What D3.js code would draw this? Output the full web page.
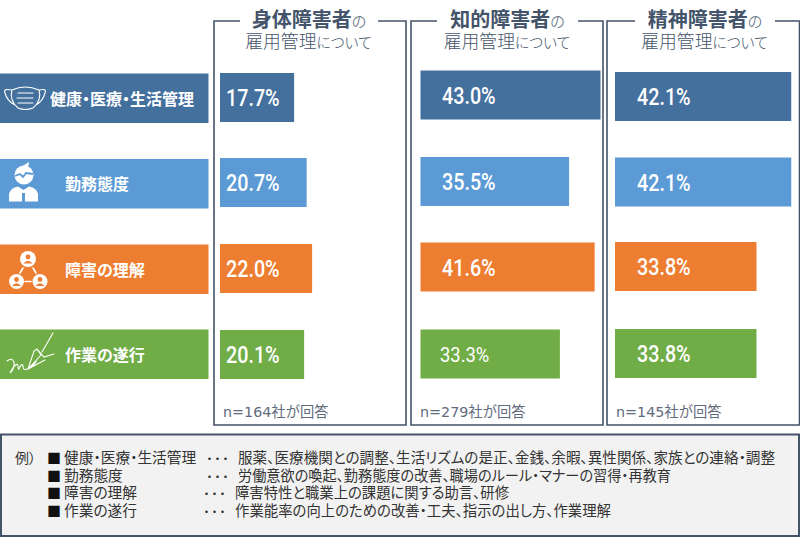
<!DOCTYPE html>
<html lang="ja"><head><meta charset="utf-8">
<script src="https://cdn.jsdelivr.net/npm/d3@7"></script>
<style>
html,body{margin:0;padding:0;background:#fff;overflow:hidden}
svg{display:block}
text{font-feature-settings:"palt"}
text.plain{font-feature-settings:normal}
</style></head><body>
<svg id="c" width="800" height="537" font-family="'Noto Sans CJK JP','Noto Sans',sans-serif"></svg>
<script>
// ---- data ----
const categories = ["健康・医療・生活管理", "勤務態度", "障害の理解", "作業の遂行"];
const panelNames = ["身体障害者", "知的障害者", "精神障害者"];
const panelSubtitle = ["雇用管理", "について"];
const respondents = ["n=164社が回答", "n=279社が回答", "n=145社が回答"];
const valuesBody = [17.7, 20.7, 22.0, 20.1];
const valuesIntellectual = [43.0, 35.5, 41.6, 33.3];
const valuesMental = [42.1, 42.1, 33.8, 33.8];
const series = [valuesBody, valuesIntellectual, valuesMental];
const noteLabel = "例）";
const noteDots = "・・・";
const noteTexts = [
 "服薬、医療機関との調整、生活リズムの是正、金銭、余暇、異性関係、家族との連絡・調整",
 "労働意欲の喚起、勤務態度の改善、職場のルール・マナーの習得・再教育",
 "障害特性と職業上の課題に関する助言、研修",
 "作業能率の向上のための改善・工夫、指示の出し方、作業理解"];
// ---- layout / style ----
const colors = ["#44709e", "#5b9ad5", "#ed7d31", "#70ad47"];
const ink = "#44546a";
const frames = [
 {l:214,r:406,g0:240,g1:378,bar:220,lab:226,tx:309},
 {l:411,r:603,g0:437,g1:578,bar:420.5,lab:442,tx:507.5},
 {l:607,r:799.5,g0:635,g1:775,bar:615,lab:637,tx:705}];
const rowTops = [[73,158,244,330],[70.5,157,242.5,329.5],[72,157.5,242,329]];
const labelTops = [73.5,159,244.5,329.5];
const noteY = [458,475.5,493,511];
const noteDotX = [207,207,204,204];
const noteTextX = [238,238,235,235];
const noteTextW = [537,433,274,376];

const svg = d3.select("#c");
const x = d3.scaleLinear().domain([0,43]).range([0,180]);
const barH = 49;

// left category labels
const labelTextX = [50,65,65,65];
const labs = svg.append("g").selectAll("g").data(categories).join("g");
labs.append("rect").attr("x",0).attr("width",208.5).attr("y",(d,i)=>labelTops[i]).attr("height",49.5).attr("fill",(d,i)=>colors[i]);
labs.append("text").attr("x",(d,i)=>labelTextX[i]).attr("y",(d,i)=>labelTops[i]+31)
  .attr("fill","#fff").attr("font-size",16).attr("font-weight",700).text(d=>d);

// panels
frames.forEach((f,p)=>{
  const g = svg.append("g");
  g.append("path").attr("fill","none").attr("stroke",ink).attr("stroke-width",1.6)
   .attr("d",`M${f.g0},21H${f.l}V425H${f.r}V21H${f.g1}`);
  const t = g.append("text").attr("x",f.tx).attr("y",27).attr("text-anchor","middle").attr("fill",ink);
  t.append("tspan").attr("font-size",20).attr("font-weight",700).text(panelNames[p]);
  t.append("tspan").attr("font-size",15).attr("font-weight",300).text("の");
  const s = g.append("text").attr("x",f.tx-0.5).attr("y",48).attr("text-anchor","middle").attr("fill",ink).attr("font-weight",300);
  s.append("tspan").attr("font-size",17.8).text(panelSubtitle[0]);
  s.append("tspan").attr("font-size",14.8).text(panelSubtitle[1]);
  g.append("text").attr("class","plain").attr("x",f.l+9).attr("y",417).attr("fill","#5f6b7d")
   .attr("font-size",14.3).attr("font-family","'DejaVu Sans','Noto Sans CJK JP'").text(respondents[p]);
  const bars = g.selectAll("g.b").data(series[p]).join("g").attr("class","b");
  bars.append("rect").attr("x",f.bar).attr("y",(d,i)=>rowTops[p][i]).attr("height",barH)
    .attr("width",d=>x(d)).attr("fill",(d,i)=>colors[i]);
  bars.append("text")
    .attr("transform",(d,i)=>{
      const small = d===33.3;
      return `translate(${small?f.lab-2:f.lab},${rowTops[p][i]+(small?32:33)}) scale(${small?0.92:0.84},1)`;})
    .attr("fill","#fff").attr("font-family","Roboto").attr("font-weight",d=>d===33.3?400:500)
    .attr("font-size",d=>d===33.3?20:23.5).text(d=>d.toFixed(1)+"%");
});

// icons (decorative)
const ic = svg.append("g").attr("fill","none").attr("stroke","#fff").attr("stroke-width",1.1).attr("stroke-linecap","round");
ic.append("path").attr("d","M12,90Q25,84 39,90Q42,100 33,108Q25,111 18,108Q9,100 12,90ZM12,90Q3,88 5,93Q7,101 15,105M39,90Q47,88 45,93Q43,101 36,105M18,93H33M17,98H33M18,103H33");
// person
const pe = svg.append("g");
pe.append("circle").attr("cx",24).attr("cy",175).attr("r",9.5).attr("fill","#fff");
pe.append("path").attr("d","M15,176l5,-2l3,3l3,-4l7,1").attr("fill","none").attr("stroke","#5b9ad5").attr("stroke-width",1.8);
pe.append("path").attr("d","M21,167l8,-5l-1,7z").attr("fill","#fff");
pe.append("path").attr("d","M9,201.5V194Q10,188 18,186.5L23.5,190L29,186.5Q37,188 38,194V201.5H25V193H22V201.5Z").attr("fill","#fff");
// network
[[28,259,8],[16.5,281.5,7.5],[40,281.5,7.5]].forEach(([cx,cy,r])=>{
  const n = svg.append("g");
  n.append("circle").attr("cx",cx).attr("cy",cy).attr("r",r).attr("fill","#fff");
  n.append("circle").attr("cx",cx).attr("cy",cy-2).attr("r",2.4).attr("fill","#ed7d31");
  n.append("path").attr("d",`M${cx-4.5},${cy+4.5}Q${cx},${cy-1} ${cx+4.5},${cy+4.5}Z`).attr("fill","#ed7d31");
});
ic.append("path").attr("stroke-width",1.6).attr("d","M23,268L20,273M33,268L36,273M25,281.5H31");
// signature + pen
ic.append("path").attr("d","M7,361Q12,357 14,362Q15,368 10,373Q16,362 18,365Q18,370 19,369Q22,362 23,366Q23,371 27,369Q31,369 36,362M28,369L41,355L37,349L34,351Q31,360 28,369ZM28,369L36,361M42,352L53,333M37,349L44,357L54,354M28,369L45,360");

// note box
svg.append("rect").attr("x",1).attr("y",434.5).attr("width",798).attr("height",101.5).attr("fill","#f2f2f2").attr("stroke",ink).attr("stroke-width",2);
const nt = svg.append("g").attr("fill","#333").attr("font-size",14.7);
nt.append("text").attr("x",15).attr("y",noteY[0]+5).attr("font-size",14).text(noteLabel);
const rows = nt.selectAll("g").data(categories).join("g");
rows.append("text").attr("x",47).attr("y",(d,i)=>noteY[i]+5).attr("fill","#111").attr("font-size",14).text("■");
rows.append("text").attr("x",64).attr("y",(d,i)=>noteY[i]+5).text(d=>d);
rows.append("text").attr("x",(d,i)=>noteDotX[i]).attr("y",(d,i)=>noteY[i]+5).attr("textLength",21).attr("font-size",10).attr("font-weight",700).text(noteDots);
rows.append("text").attr("x",(d,i)=>noteTextX[i]).attr("y",(d,i)=>noteY[i]+5)
  .attr("textLength",(d,i)=>noteTextW[i]).attr("lengthAdjust","spacingAndGlyphs").text((d,i)=>noteTexts[i]);
</script></body></html>
